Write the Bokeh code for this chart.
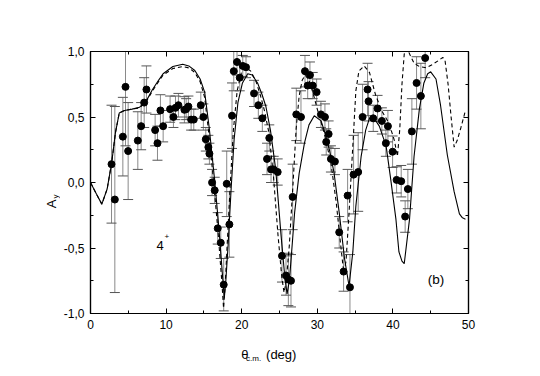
import numpy as np
from bokeh.plotting import figure
from bokeh.layouts import row, column
from bokeh.core.properties import value
from bokeh.models import (ColumnDataSource, Whisker, TeeHead, Label, LinearAxis,
                          FixedTicker, CustomJSTickFormatter, Range1d)
from bokeh.embed import file_html
from bokeh.resources import INLINE

# ---- data -----------------------------------------------------------
exp_theta = [2.78, 3.22, 4.28, 4.63, 4.98, 6.26, 6.70, 7.10, 7.40, 8.55, 8.86, 9.25, 9.61,
             10.53, 10.97, 11.24, 11.63, 12.42, 12.65, 12.95, 13.31, 13.66, 14.59, 14.93,
             15.25, 15.59, 15.73, 16.08, 16.43, 16.83, 17.23, 17.62, 18.02, 18.37, 18.72,
             18.95, 19.38, 19.74, 20.14, 20.57, 21.63, 22.20, 22.73, 23.35, 23.65, 23.88,
             24.23, 24.76, 25.33, 25.86, 26.17, 26.52, 26.74, 27.22, 27.84, 28.37, 28.73,
             29.03, 29.39, 29.91, 30.48, 31.01, 31.18, 31.50, 31.80, 32.33, 32.90, 33.48,
             34.01, 34.32, 34.80, 35.41, 35.99, 36.65, 36.78, 37.40, 37.97, 38.54, 39.07,
             39.34, 39.96, 40.49, 41.10, 41.62, 41.98, 42.51, 43.13, 43.70, 44.27]
exp_ay = [0.14, -0.13, 0.35, 0.73, 0.24, 0.32, 0.43, 0.61, 0.71, 0.40, 0.30, 0.55, 0.43,
          0.56, 0.50, 0.57, 0.59, 0.555, 0.56, 0.58, 0.48, 0.48, 0.59, 0.50,
          0.33, 0.27, 0.22, 0.00, -0.06, -0.35, -0.46, -0.78, -0.01, -0.32, 0.51,
          0.85, 0.92, 0.80, 0.89, 0.88, 0.68, 0.59, 0.49, 0.18, 0.34, 0.10,
          0.10, 0.08, -0.56, -0.71, -0.74, -0.75, -0.11, 0.52, 0.50, 0.85, 0.74,
          0.82, 0.74, 0.69, 0.52, 0.50, 0.31, 0.37, 0.18, 0.16, -0.38, -0.68,
          -0.10, -0.80, 0.06, 0.08, 0.50, 0.71, 0.62, 0.49, 0.565, 0.47, 0.30,
          0.43, 0.235, 0.02, 0.01, -0.26, -0.05, 0.39, 0.76, 0.66, 0.95]
exp_err = [0.45, 0.71, 0.30, 0.45, 0.37, 0.22, 0.18, 0.19, 0.18, 0.12, 0.13, 0.12, 0.12,
           0.10, 0.08, 0.09, 0.09, 0.10, 0.08, 0.08, 0.08, 0.08, 0.10, 0.10,
           0.09, 0.09, 0.08, 0.10, 0.10, 0.12, 0.12, 0.20, 0.25, 0.25, 0.25,
           0.15, 0.10, 0.10, 0.08, 0.08, 0.10, 0.10, 0.10, 0.12, 0.10, 0.10,
           0.10, 0.10, 0.20, 0.15, 0.20, 0.20, 0.25, 0.20, 0.20, 0.12, 0.10,
           0.10, 0.10, 0.10, 0.10, 0.10, 0.10, 0.10, 0.10, 0.10, 0.12, 0.15,
           0.20, 0.25, 0.30, 0.30, 0.25, 0.20, 0.15, 0.10, 0.10, 0.10, 0.10,
           0.12, 0.12, 0.10, 0.12, 0.12, 0.15, 0.25, 0.20, 0.25, 0.15]

solid_theta = [0, 0.8, 1.5, 2.2, 2.8, 3.3, 3.8, 4.5, 5.5, 6.5, 7.4, 8.2, 9.0, 9.6, 10.9, 12.2,
               13.0, 13.8, 14.5, 15.1, 15.7, 16.4, 17.0, 17.5, 17.7, 17.9, 18.2, 18.6, 19.0,
               19.5, 20.1, 20.8, 21.4, 22.1, 22.7, 23.2, 23.8, 24.5, 25.2, 25.7, 26.0, 26.3,
               26.5, 27.0, 27.6, 28.3, 28.9, 29.6, 30.5, 31.0, 31.6, 32.2, 32.9, 33.6, 34.2,
               34.7, 35.1, 35.8, 36.4, 36.9, 37.3, 38.2, 39.1, 39.7, 40.4, 40.8, 41.2, 41.5,
               42.2, 42.8, 43.5, 44.1, 44.6, 45.0, 45.7, 46.3, 47.2, 48.1, 48.8, 49.2, 49.6]
solid_ay = [0.0, -0.09, -0.165, -0.05, 0.15, 0.38, 0.53, 0.55, 0.56, 0.575, 0.625, 0.71, 0.78,
            0.83, 0.885, 0.903, 0.89, 0.855, 0.79, 0.69, 0.42, 0.03, -0.36, -0.74, -0.88,
            -0.75, -0.48, -0.05, 0.33, 0.61, 0.76, 0.83, 0.82, 0.76, 0.67, 0.58, 0.40, 0.10,
            -0.40, -0.72, -0.85, -0.75, -0.61, -0.23, 0.07, 0.30, 0.44, 0.51, 0.47, 0.38,
            0.25, 0.08, -0.23, -0.58, -0.79, -0.53, -0.18, 0.20, 0.40, 0.49, 0.51, 0.43,
            0.28, 0.03, -0.28, -0.53, -0.60, -0.62, -0.28, 0.20, 0.56, 0.76, 0.83, 0.845,
            0.79, 0.59, 0.21, -0.07, -0.24, -0.27, -0.28]

dash_theta = [0, 0.8, 1.5, 2.2, 2.8, 3.3, 3.8, 4.5, 5.5, 6.5, 7.4, 8.2, 9.0, 9.6, 10.9, 12.2,
              13.0, 13.8, 14.5, 15.1, 15.6, 16.3, 16.9, 17.4, 17.6, 17.8, 18.1, 18.5, 18.9,
              19.4, 20.0, 20.5, 21.2, 21.9, 22.5, 23.0, 23.6, 24.2, 24.8, 25.3, 25.6, 25.9,
              26.3, 26.8, 27.2, 27.6, 28.0, 28.4, 28.9, 29.4, 30.0, 30.9, 31.8, 32.5, 33.1,
              33.5, 33.8, 34.2, 34.7, 35.1, 35.5, 36.2, 36.9, 37.7, 38.5, 39.5, 40.2, 40.6,
              40.9, 41.2, 41.5, 41.7, 41.9, 42.3, 42.8, 43.5, 44.4, 45.2, 46.0, 46.6, 46.9,
              47.3, 47.7, 48.1, 48.5, 49.0, 49.6]
dash_ay = [0.0, -0.09, -0.165, -0.05, 0.15, 0.38, 0.53, 0.55, 0.56, 0.57, 0.62, 0.70, 0.77,
           0.82, 0.87, 0.885, 0.875, 0.84, 0.77, 0.65, 0.40, 0.0, -0.40, -0.78, -0.96, -0.80,
           -0.45, 0.0, 0.40, 0.70, 0.85, 0.88, 0.85, 0.77, 0.66, 0.55, 0.38, 0.05, -0.40,
           -0.72, -0.84, -0.75, -0.48, 0.0, 0.41, 0.66, 0.78, 0.82, 0.78, 0.69, 0.56, 0.38,
           0.15, -0.15, -0.48, -0.69, -0.60, -0.23, 0.28, 0.70, 0.85, 0.89, 0.84, 0.67, 0.55,
           0.45, 0.32, 0.20, 0.40, 0.75, 0.98, 1.02, 1.02, 0.97, 0.91, 0.885, 0.875, 0.90,
           0.93, 0.955, 0.93, 0.75, 0.50, 0.27, 0.32, 0.42, 0.55]

x_ticks = [0, 10, 20, 30, 40, 50]
y_ticks = [-1.0, -0.5, 0.0, 0.5, 1.0]

FONT = "Liberation Sans"

# ---- layout geometry (canvas pixels) --------------------------------
YLAB_W = 60          # strip on the left holding the y title
MAIN_W, MAIN_H = 464, 340
XLAB_H = 24          # strip below holding the x title
TOTAL_H = MAIN_H + XLAB_H

# ---- main figure ------------------------------------------------------
p = figure(width=MAIN_W, height=MAIN_H, output_backend="svg", toolbar_location=None,
           x_range=Range1d(0, 50), y_range=Range1d(-1, 1),
           min_border_left=89 - YLAB_W, min_border_right=MAIN_W - (468 - YLAB_W),
           min_border_top=51, min_border_bottom=MAIN_H - 313,
           x_axis_location=None, y_axis_location=None)
p.title.visible = False
p.xgrid.visible = False
p.ygrid.visible = False
p.outline_line_color = "black"
p.outline_line_width = 1.2
p.background_fill_color = "white"
p.border_fill_color = "white"

xt = FixedTicker(ticks=x_ticks, minor_ticks=[5, 15, 25, 35, 45])
yt = FixedTicker(ticks=y_ticks, minor_ticks=[-0.75, -0.25, 0.25, 0.75])
yfmt = CustomJSTickFormatter(code="return tick.toFixed(1).replace('.', ',');")

def style(ax, labels=True):
    ax.major_tick_in = 5
    ax.major_tick_out = 0
    ax.minor_tick_in = 3
    ax.minor_tick_out = 0
    ax.axis_line_color = "black"
    ax.axis_line_width = 1.2
    ax.major_tick_line_color = "black"
    ax.minor_tick_line_color = "black"
    ax.major_label_text_font = FONT
    ax.major_label_text_font_size = "12px"
    ax.major_label_text_color = "black"
    if not labels:
        ax.major_label_text_font_size = "0px"
        ax.major_label_text_alpha = 0

bx = LinearAxis(ticker=xt); style(bx); bx.major_label_standoff = 6
tx = LinearAxis(ticker=xt); style(tx, False)
ly = LinearAxis(ticker=yt, formatter=yfmt); style(ly); ly.major_label_standoff = 6
ry = LinearAxis(ticker=yt); style(ry, False)
p.add_layout(bx, "below")
p.add_layout(tx, "above")
p.add_layout(ly, "left")
p.add_layout(ry, "right")

# ---- error bars and points ------------------------------------------
lower = [a - e for a, e in zip(exp_ay, exp_err)]
upper = [a + e for a, e in zip(exp_ay, exp_err)]
src = ColumnDataSource(dict(x=exp_theta, y=exp_ay, lower=lower, upper=upper))
wh = Whisker(source=src, base="x", lower="lower", upper="upper",
             line_color="#8a8a8a", line_width=1,
             upper_head=TeeHead(size=10, line_color="#555555", line_width=1),
             lower_head=TeeHead(size=10, line_color="#555555", line_width=1))
p.add_layout(wh)

p.line(solid_theta, solid_ay, line_color="black", line_width=1.1)
p.line(dash_theta, dash_ay, line_color="black", line_width=1.1, line_dash="4 3")
p.scatter("x", "y", source=src, size=7, fill_color="black", line_color="black")

def lab(fig, x, y, text, size, **kw):
    fig.add_layout(Label(x=x, y=y, text=text, text_font=FONT, text_font_size=size,
                         text_color="black", **kw))

lab(p, 9.2, -0.48, "4", "13px", text_align="center", text_baseline="middle")
lab(p, 10.1, -0.41, "+", "8px", text_align="center", text_baseline="middle")
lab(p, 45.7, -0.74, "(b)", "13.5px", text_align="center", text_baseline="middle")

# ---- strips holding the axis titles (data units = pixels) --------------
def strip(w, h):
    f = figure(width=w, height=h, output_backend="svg", toolbar_location=None,
               x_range=Range1d(0, w), y_range=Range1d(0, h),
               min_border_left=0, min_border_right=0, min_border_top=0, min_border_bottom=0,
               x_axis_location=None, y_axis_location=None)
    f.title.visible = False
    f.xgrid.visible = False
    f.ygrid.visible = False
    f.outline_line_color = None
    f.background_fill_color = "white"
    f.border_fill_color = "white"
    return f

xs = strip(MAIN_W, XLAB_H)
# x: canvas x minus YLAB_W ; y: measured upward from the strip bottom
lab(xs, 245 - YLAB_W, TOTAL_H - 354, "θ", "13px", text_align="left",
    text_baseline="alphabetic")
lab(xs, 251 - YLAB_W, TOTAL_H - 358, "c.m.", "8px", text_align="left",
    text_baseline="alphabetic")
lab(xs, 275.5 - YLAB_W, TOTAL_H - 354, "(deg)", "13px", text_align="left",
    text_baseline="alphabetic")

ys = strip(YLAB_W, TOTAL_H)
ys.text(x=[51], y=[TOTAL_H - 203.5], text=["A"], angle=np.pi / 2,
        text_font=value(FONT), text_font_size="13px", text_color="black",
        text_align="center", text_baseline="middle")
ys.text(x=[55.3], y=[TOTAL_H - 196], text=["y"], angle=np.pi / 2,
        text_font=value(FONT), text_font_size="8px", text_color="black",
        text_align="center", text_baseline="middle")

layout = row(ys, column(p, xs, spacing=0), spacing=0)
open("out.html", "w").write(file_html(layout, INLINE))
